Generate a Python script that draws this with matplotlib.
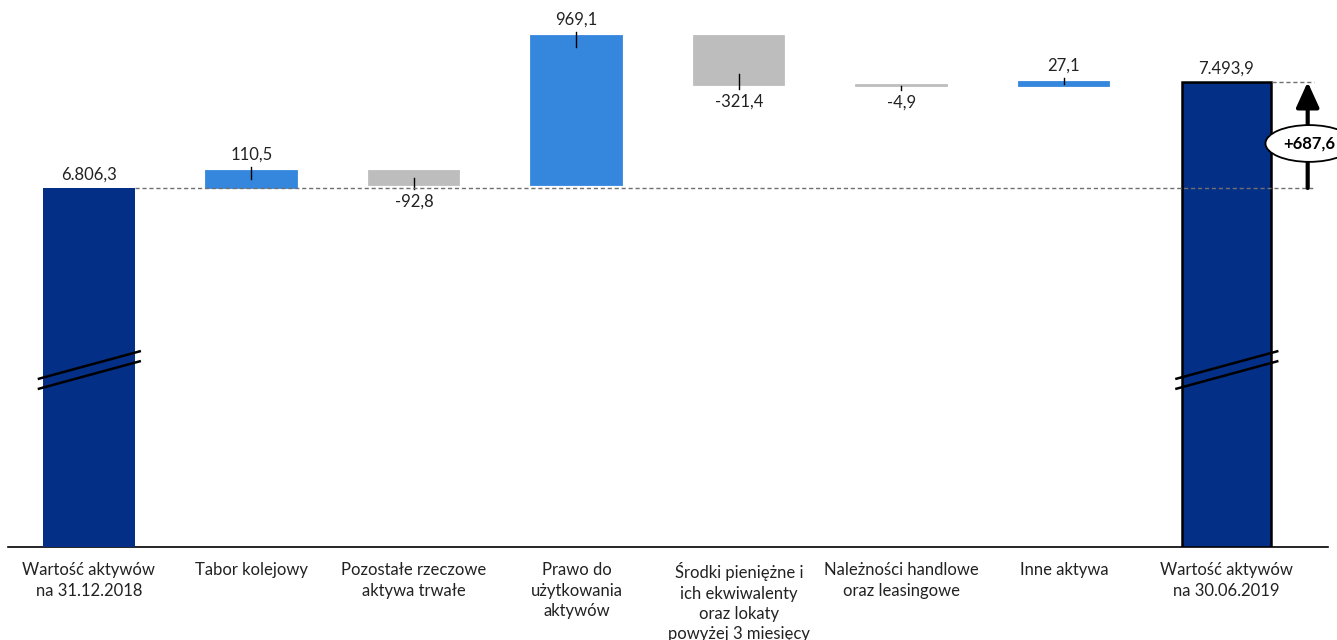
import matplotlib
matplotlib.use("Agg")
import matplotlib.pyplot as plt
import numpy as np

plt.rcParams['font.family'] = ['Lato', 'DejaVu Sans']

categories = ["Wartość aktywów\nna 31.12.2018", "Tabor kolejowy", "Pozostałe rzeczowe\naktywa trwałe",
              "Prawo do\nużytkowania\naktywów", "Środki pieniężne i\nich ekwiwalenty\noraz lokaty\npowyżej 3 miesięcy",
              "Należności handlowe\noraz leasingowe", "Inne aktywa", "Wartość aktywów\nna 30.06.2019"]
start_value = 6806.3
deltas = [110.5, -92.8, 969.1, -321.4, -4.9, 27.1]
end_value = 7493.9
value_labels = ["6.806,3", "110,5", "-92,8", "969,1", "-321,4", "-4,9", "27,1", "7.493,9"]
change_label = "+687,6"

NAVY = '#042F87'
BLUE = '#3586DD'
GREY = '#BDBDBD'
TXT = '#222222'

fig = plt.figure(figsize=(13.37, 6.40), dpi=100)
ax = fig.add_axes([8/1337, 93/640, 1320/1337, 547/640])
ax.set_xlim(-0.498, 7.625)
ax.set_ylim(4477.5, 8025.8)
for s in ['top', 'right', 'left']:
    ax.spines[s].set_visible(False)
ax.spines['bottom'].set_color('black')
ax.spines['bottom'].set_linewidth(1.2)
ax.set_yticks([])

W = 0.566
x = np.arange(len(categories))
ymin = ax.get_ylim()[0]

# totals
ax.bar(x[0], start_value - ymin, bottom=ymin, width=W, color=NAVY, zorder=3)
ax.bar(x[-1], end_value - ymin, bottom=ymin, width=W - 0.02, color=NAVY, edgecolor='black', linewidth=1.8, zorder=3)

# deltas
cum = start_value
for i, d in enumerate(deltas):
    xi = x[i + 1]
    col = BLUE if d > 0 else GREY
    ax.bar(xi, d, bottom=cum, width=W - 0.01, color=col, edgecolor=col, linewidth=1.3, zorder=3)
    cum += d

px = (ax.get_ylim()[1] - ax.get_ylim()[0]) / 547.0  # data units per pixel

# value labels for totals
ax.annotate(value_labels[0], xy=(x[0], start_value), xytext=(0, 5), textcoords='offset pixels',
            ha='center', va='bottom', fontsize=12, color=TXT, zorder=5)
ax.annotate(value_labels[-1], xy=(x[-1], end_value), xytext=(0, 5), textcoords='offset pixels',
            ha='center', va='bottom', fontsize=12, color=TXT, zorder=5)

# delta labels with leader lines
cum = start_value
for i, d in enumerate(deltas):
    xi = x[i + 1]
    end = cum + d
    sgn = 1 if d > 0 else -1
    inside = min(11 * px, abs(d) / 2)
    ax.plot([xi, xi], [end - sgn * inside, end + sgn * 4 * px], color='black', lw=1, zorder=4)
    ax.annotate(value_labels[i + 1], xy=(xi, end), xytext=(0, sgn * 8), textcoords='offset pixels',
                ha='center', va='bottom' if d > 0 else 'top', fontsize=12, color=TXT, zorder=5)
    cum = end

# dashed reference lines
xa = 7.50
ax.plot([x[0] + W / 2, xa + 0.04], [start_value, start_value], ls=(0, (3, 2)), color='#707070', lw=1, zorder=4)
ax.plot([x[-1] + W / 2, xa + 0.04], [end_value, end_value], ls=(0, (3, 2)), color='#707070', lw=1, zorder=4)

# arrow
ax.annotate('', xy=(xa, end_value), xytext=(xa, start_value),
            arrowprops=dict(arrowstyle='-|>,head_width=0.5,head_length=1.1', lw=3, color='black',
                            shrinkA=0, shrinkB=0, mutation_scale=14), zorder=5, annotation_clip=False)
ax.text(xa + 0.01, start_value + 0.42 * (end_value - start_value), change_label, ha='center', va='center',
        fontsize=12, fontweight='bold', color='black', zorder=6, clip_on=False,
        bbox=dict(boxstyle='ellipse,pad=0.3', fc='white', ec='black', lw=1.3))

# axis break marks
ybrk = 5658
for xb in [x[0], x[-1]]:
    for off in [0, -10 * px]:
        ax.plot([xb - 0.315, xb + 0.32], [ybrk - 91 + off, ybrk + 91 + off], color='black', lw=1.8,
                zorder=5, solid_capstyle='butt')

ax.set_xticks(x)
ax.set_xticklabels(categories, fontsize=12, color=TXT, linespacing=1.33)
ax.tick_params(axis='x', length=0, pad=11)

fig.savefig('out.png', dpi=100)
